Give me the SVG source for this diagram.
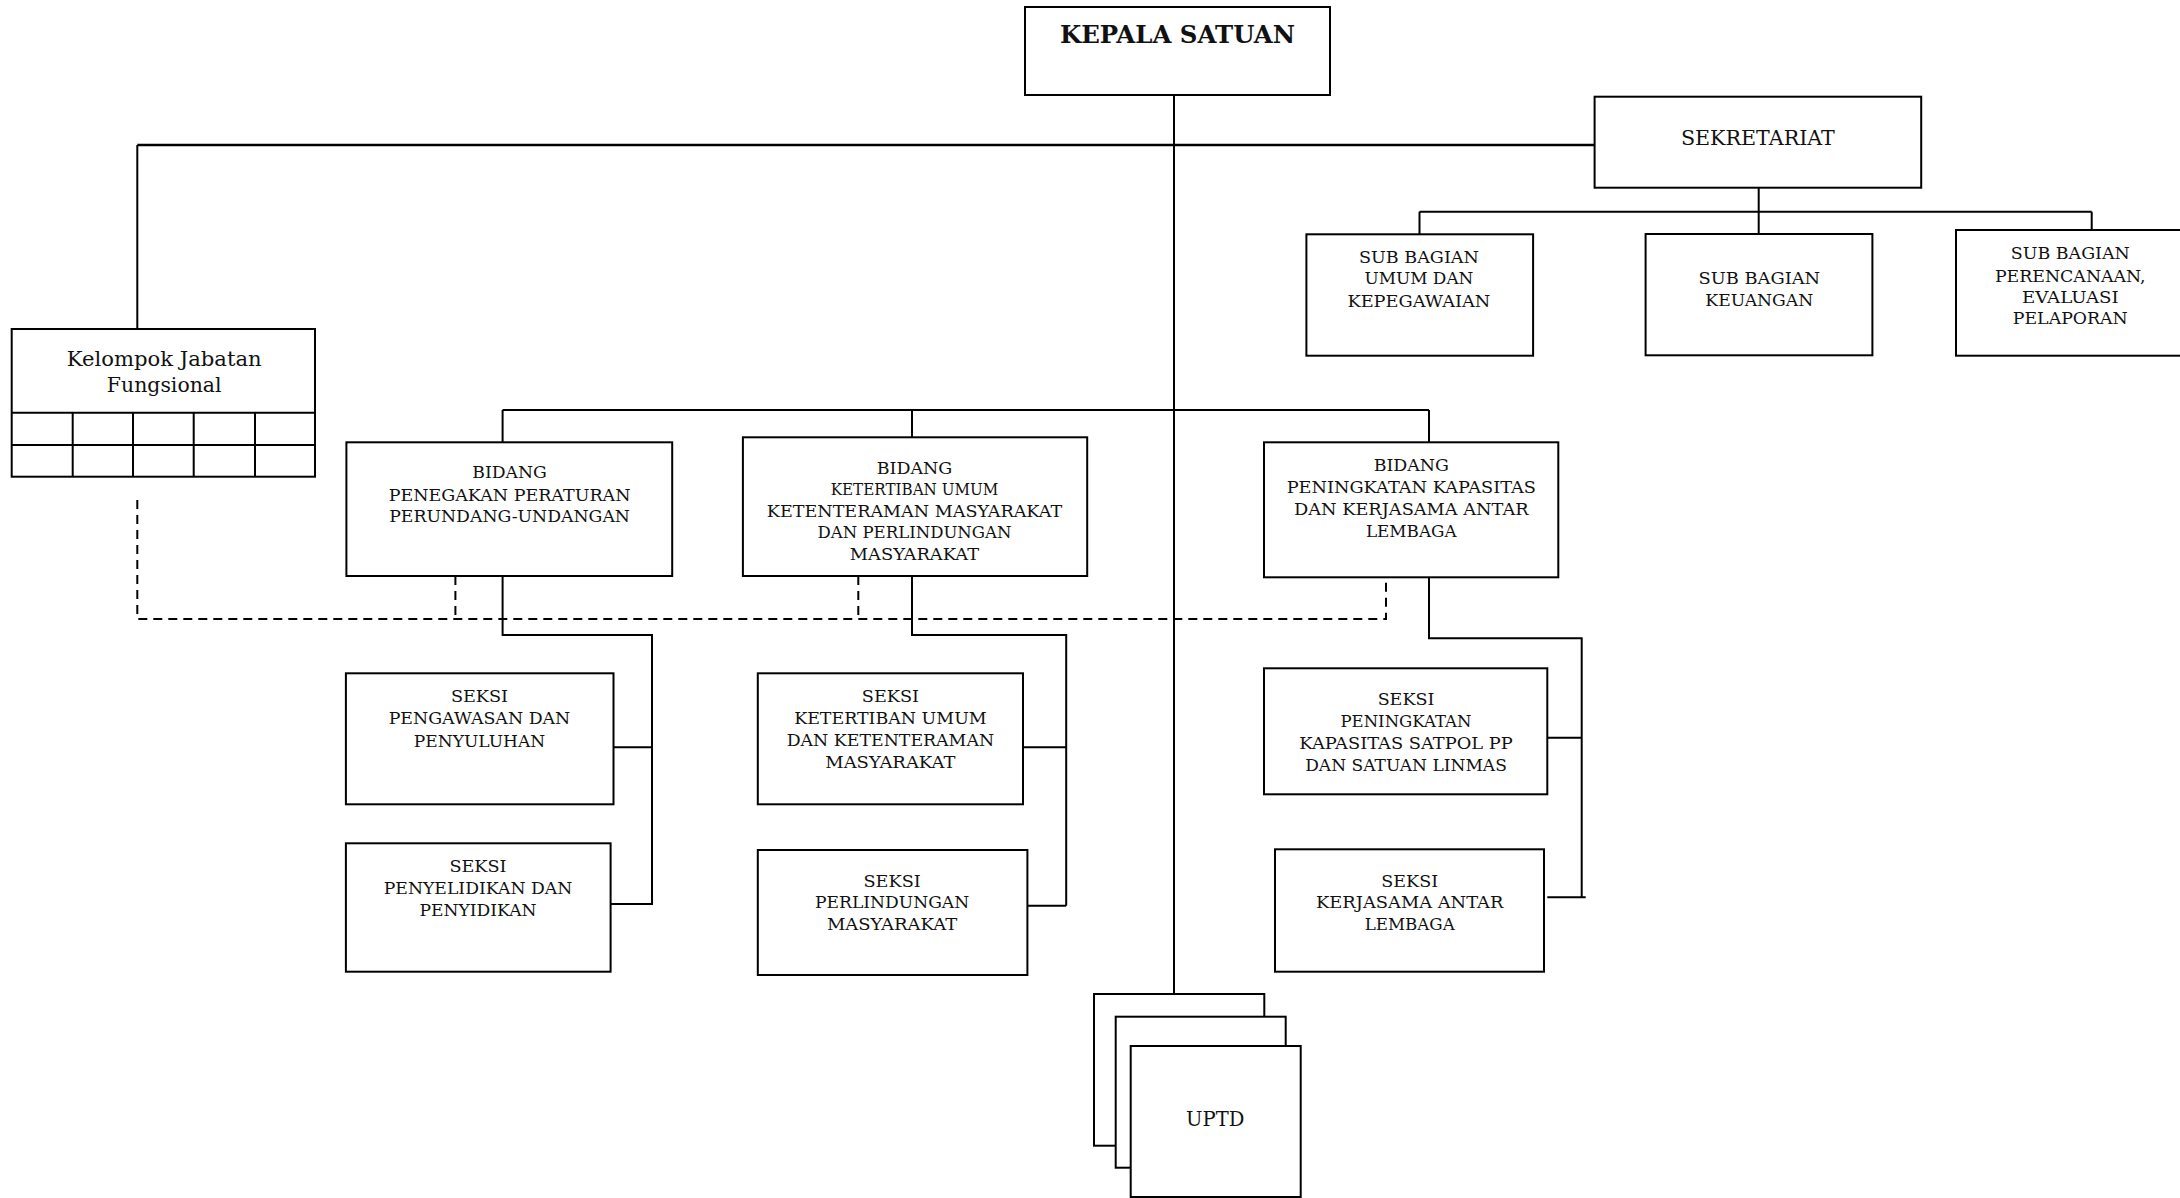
<svg xmlns="http://www.w3.org/2000/svg" width="2180" height="1198" viewBox="0 0 2180 1198">
  <style>
    .box { fill: #fff; stroke: #000; stroke-width: 2; }
    .ln { fill: none; stroke: #000; stroke-width: 2; }
    .thick { stroke-width: 2.6; }
    .dash { stroke-dasharray: 9 6; }
    text { font-family: "DejaVu Serif", "Liberation Serif", serif; font-size: 17px; text-anchor: middle; fill: #111; }
    .head { font-weight: bold; font-size: 24px; }
    .big { font-size: 20px; }
  </style>
  <rect width="2180" height="1198" fill="#fff"/>

  <!-- connectors -->
  <g id="connectors">
    <!-- main trunk -->
    <path class="ln" d="M1174 95 V994"/>
    <path class="ln thick" d="M137.3 145 H1595"/>
    <path class="ln" d="M137.3 145 V329"/>
    <!-- sekretariat to sub bagian -->
    <path class="ln" d="M1758.7 187.7 V211.7 M1419.5 211.7 H2091.7 M1419.5 211.7 V234 M1758.7 211.7 V234 M2091.7 211.7 V230"/>
    <!-- bidang bus -->
    <path class="ln" d="M502.6 410 H1429 M502.6 410 V442 M912 410 V437.3 M1429 410 V442.3"/>
    <!-- bidang 1 to seksi -->
    <path class="ln" d="M502.6 576 V635 H652 V905 M613.5 747.3 H652 M610.6 904 H652"/>
    <!-- bidang 2 to seksi -->
    <path class="ln" d="M912 576 V635 H1066.2 V905.7 M1023 747.3 H1066.2 M1027.4 905.7 H1066.2"/>
    <!-- bidang 3 to seksi -->
    <path class="ln" d="M1429 577.3 V638.3 H1581.7 V897.3 M1547.3 737.7 H1581.7 M1547.3 897.3 H1585.7"/>
    <!-- functional coordination (dashed) -->
    <path class="ln dash" d="M137.3 500 V619 H1386 V577.3"/>
    <path class="ln dash" d="M455.4 576 V619 M858.3 576 V619"/>
  </g>

  <g id="kepala-satuan">
    <rect class="box" x="1025" y="7" width="305" height="88"/>
    <text class="head" x="1177.5" y="43" textLength="235" lengthAdjust="spacingAndGlyphs">KEPALA SATUAN</text>
  </g>

  <g id="sekretariat">
    <rect class="box" x="1594.6" y="96.7" width="326.6" height="91"/>
    <text class="big" x="1757.9" y="145" textLength="154" lengthAdjust="spacingAndGlyphs">SEKRETARIAT</text>
  </g>

  <g id="subbag-umum">
    <rect class="box" x="1306.4" y="234.3" width="226.7" height="121.4"/>
    <text x="1418.9" y="262.7" textLength="120" lengthAdjust="spacingAndGlyphs">SUB BAGIAN</text>
    <text x="1418.9" y="284.3" textLength="109" lengthAdjust="spacingAndGlyphs">UMUM DAN</text>
    <text x="1418.9" y="306.7" textLength="143" lengthAdjust="spacingAndGlyphs">KEPEGAWAIAN</text>
  </g>

  <g id="subbag-keuangan">
    <rect class="box" x="1645.6" y="234" width="226.8" height="121.3"/>
    <text x="1759.3" y="284" textLength="121.7" lengthAdjust="spacingAndGlyphs">SUB BAGIAN</text>
    <text x="1759.3" y="305.7" textLength="108" lengthAdjust="spacingAndGlyphs">KEUANGAN</text>
  </g>

  <g id="subbag-perencanaan">
    <rect class="box" x="1956" y="230" width="230" height="125.7"/>
    <text x="2070.3" y="259.3" textLength="119" lengthAdjust="spacingAndGlyphs">SUB BAGIAN</text>
    <text x="2070.3" y="281.7" textLength="150.7" lengthAdjust="spacingAndGlyphs">PERENCANAAN,</text>
    <text x="2070.3" y="302.7" textLength="96.7" lengthAdjust="spacingAndGlyphs">EVALUASI</text>
    <text x="2070.3" y="324.3" textLength="115" lengthAdjust="spacingAndGlyphs">PELAPORAN</text>
  </g>

  <g id="kelompok-jabatan-fungsional">
    <rect class="box" x="11.7" y="329" width="303.3" height="147.7"/>
    <path class="ln" d="M11.7 412.7 H315 M11.7 445 H315 M72.7 412.7 V476.7 M133 412.7 V476.7 M193.7 412.7 V476.7 M255 412.7 V476.7"/>
    <text class="big" x="164.2" y="365.5" textLength="195" lengthAdjust="spacingAndGlyphs">Kelompok Jabatan</text>
    <text class="big" x="164.2" y="391.5" textLength="114.7" lengthAdjust="spacingAndGlyphs">Fungsional</text>
  </g>

  <g id="bidang-penegakan">
    <rect class="box" x="346.4" y="442.3" width="325.8" height="133.7"/>
    <text x="509.6" y="478.3" textLength="74.6" lengthAdjust="spacingAndGlyphs">BIDANG</text>
    <text x="509.6" y="500.7" textLength="241.8" lengthAdjust="spacingAndGlyphs">PENEGAKAN PERATURAN</text>
    <text x="509.6" y="521.7" textLength="240.8" lengthAdjust="spacingAndGlyphs">PERUNDANG-UNDANGAN</text>
  </g>

  <g id="bidang-ketertiban">
    <rect class="box" x="742.9" y="437.3" width="344.3" height="138.7"/>
    <text x="914.5" y="474" textLength="75.6" lengthAdjust="spacingAndGlyphs">BIDANG</text>
    <text x="914.5" y="495" textLength="167.6" lengthAdjust="spacingAndGlyphs">KETERTIBAN UMUM</text>
    <text x="914.5" y="516.7" textLength="295.5" lengthAdjust="spacingAndGlyphs">KETENTERAMAN MASYARAKAT</text>
    <text x="914.5" y="538.3" textLength="194" lengthAdjust="spacingAndGlyphs">DAN PERLINDUNGAN</text>
    <text x="914.5" y="560" textLength="129.3" lengthAdjust="spacingAndGlyphs">MASYARAKAT</text>
  </g>

  <g id="bidang-peningkatan">
    <rect class="box" x="1264" y="442.3" width="294.3" height="135"/>
    <text x="1411.3" y="470.7" textLength="75.3" lengthAdjust="spacingAndGlyphs">BIDANG</text>
    <text x="1411.3" y="492.7" textLength="249.3" lengthAdjust="spacingAndGlyphs">PENINGKATAN KAPASITAS</text>
    <text x="1411.3" y="515" textLength="234.7" lengthAdjust="spacingAndGlyphs">DAN KERJASAMA ANTAR</text>
    <text x="1411.3" y="537.3" textLength="90.7" lengthAdjust="spacingAndGlyphs">LEMBAGA</text>
  </g>

  <g id="seksi-pengawasan">
    <rect class="box" x="345.9" y="673.3" width="267.6" height="131"/>
    <text x="479.5" y="701.7" textLength="57.2" lengthAdjust="spacingAndGlyphs">SEKSI</text>
    <text x="479.5" y="724" textLength="181.6" lengthAdjust="spacingAndGlyphs">PENGAWASAN DAN</text>
    <text x="479.5" y="746.7" textLength="131.3" lengthAdjust="spacingAndGlyphs">PENYULUHAN</text>
  </g>

  <g id="seksi-penyelidikan">
    <rect class="box" x="345.9" y="843.3" width="264.7" height="128.4"/>
    <text x="478" y="871.7" textLength="57.2" lengthAdjust="spacingAndGlyphs">SEKSI</text>
    <text x="478" y="894" textLength="188.5" lengthAdjust="spacingAndGlyphs">PENYELIDIKAN DAN</text>
    <text x="478" y="916" textLength="117" lengthAdjust="spacingAndGlyphs">PENYIDIKAN</text>
  </g>

  <g id="seksi-ketertiban">
    <rect class="box" x="757.8" y="673.3" width="265.2" height="131"/>
    <text x="890.4" y="701.7" textLength="57.2" lengthAdjust="spacingAndGlyphs">SEKSI</text>
    <text x="890.4" y="724" textLength="192.5" lengthAdjust="spacingAndGlyphs">KETERTIBAN UMUM</text>
    <text x="890.4" y="746" textLength="207.4" lengthAdjust="spacingAndGlyphs">DAN KETENTERAMAN</text>
    <text x="890.4" y="768.3" textLength="130.3" lengthAdjust="spacingAndGlyphs">MASYARAKAT</text>
  </g>

  <g id="seksi-perlindungan">
    <rect class="box" x="757.8" y="850" width="269.6" height="125"/>
    <text x="892.1" y="886.7" textLength="57.2" lengthAdjust="spacingAndGlyphs">SEKSI</text>
    <text x="892.1" y="908.3" textLength="154.2" lengthAdjust="spacingAndGlyphs">PERLINDUNGAN</text>
    <text x="892.1" y="930" textLength="130.3" lengthAdjust="spacingAndGlyphs">MASYARAKAT</text>
  </g>

  <g id="seksi-peningkatan">
    <rect class="box" x="1264" y="668.3" width="283.3" height="126"/>
    <text x="1406" y="705" textLength="56.7" lengthAdjust="spacingAndGlyphs">SEKSI</text>
    <text x="1406" y="727.3" textLength="131" lengthAdjust="spacingAndGlyphs">PENINGKATAN</text>
    <text x="1406" y="749" textLength="213.3" lengthAdjust="spacingAndGlyphs">KAPASITAS SATPOL PP</text>
    <text x="1406" y="771" textLength="201.7" lengthAdjust="spacingAndGlyphs">DAN SATUAN LINMAS</text>
  </g>

  <g id="seksi-kerjasama">
    <rect class="box" x="1275" y="849.3" width="269" height="122.4"/>
    <text x="1409.7" y="886.7" textLength="56.7" lengthAdjust="spacingAndGlyphs">SEKSI</text>
    <text x="1409.7" y="908.3" textLength="187.3" lengthAdjust="spacingAndGlyphs">KERJASAMA ANTAR</text>
    <text x="1409.7" y="930" textLength="90" lengthAdjust="spacingAndGlyphs">LEMBAGA</text>
  </g>

  <g id="uptd">
    <rect class="box" x="1094" y="994" width="170.3" height="151.7"/>
    <rect class="box" x="1115.7" y="1016.7" width="170" height="151"/>
    <rect class="box" x="1130.7" y="1046" width="170" height="151"/>
    <text class="big" x="1215.2" y="1126" textLength="58.3" lengthAdjust="spacingAndGlyphs">UPTD</text>
  </g>
</svg>
